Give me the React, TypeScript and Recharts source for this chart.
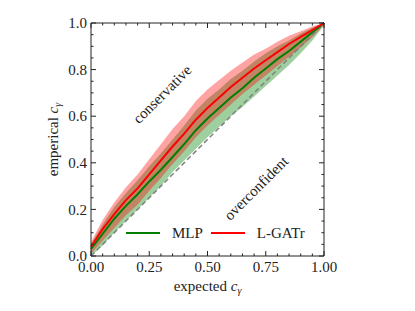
import {
  Area,
  ComposedChart,
  Line,
  ReferenceDot,
  ReferenceLine,
  XAxis,
  YAxis,
} from "recharts";

const SERIF = '"Liberation Serif", "DejaVu Serif", serif';
const INK = "#222";
const RED = "#ff0000";
const GREEN = "#008000";

// expected coverage
const X = [
  0, 0.05, 0.1, 0.15, 0.2, 0.25, 0.3, 0.35, 0.4, 0.45, 0.5, 0.55, 0.6, 0.65, 0.7,
  0.75, 0.8, 0.85, 0.9, 0.95, 1,
];

// MLP
const MLP = [
  0.03, 0.095, 0.16, 0.215, 0.265, 0.32, 0.37, 0.425, 0.48, 0.54, 0.59, 0.635,
  0.68, 0.72, 0.765, 0.805, 0.845, 0.88, 0.92, 0.96, 1.0,
];
const MLP_LO = [
  0.0, 0.045, 0.1, 0.15, 0.2, 0.25, 0.3, 0.36, 0.41, 0.46, 0.51, 0.555, 0.6,
  0.64, 0.685, 0.73, 0.775, 0.82, 0.87, 0.925, 0.99,
];
const MLP_HI = [
  0.05, 0.135, 0.21, 0.27, 0.325, 0.385, 0.44, 0.5, 0.56, 0.625, 0.675, 0.715,
  0.76, 0.795, 0.835, 0.87, 0.9, 0.925, 0.955, 0.98, 1.0,
];

// L-GATr
const LGATR = [
  0.04, 0.115, 0.18, 0.24, 0.29, 0.35, 0.41, 0.47, 0.525, 0.585, 0.635, 0.68,
  0.725, 0.765, 0.805, 0.84, 0.875, 0.91, 0.94, 0.97, 1.0,
];
const LGATR_LO = [
  0.01, 0.065, 0.12, 0.175, 0.22, 0.28, 0.335, 0.395, 0.45, 0.51, 0.56, 0.605,
  0.65, 0.695, 0.735, 0.775, 0.815, 0.855, 0.895, 0.94, 0.99,
];
const LGATR_HI = [
  0.06, 0.155, 0.23, 0.295, 0.35, 0.415, 0.48, 0.545, 0.6, 0.665, 0.715, 0.755,
  0.795, 0.83, 0.865, 0.89, 0.92, 0.945, 0.965, 0.985, 1.0,
];

const X_TICKS = [0, 0.25, 0.5, 0.75, 1];
const Y_TICKS = [0, 0.2, 0.4, 0.6, 0.8, 1];
const MINOR = [
  0, 0.05, 0.1, 0.15, 0.2, 0.25, 0.3, 0.35, 0.4, 0.45, 0.5, 0.55, 0.6, 0.65, 0.7,
  0.75, 0.8, 0.85, 0.9, 0.95, 1,
];

const MAJ_LEN = 5;
const MIN_LEN = 2.5;
const isIn = (v: number, list: number[]) => list.some((t) => Math.abs(t - v) < 1e-6);

// inward ticks, drawn from each axis' own tick coordinates
const bottomTick = (p: any) => {
  const v = p.payload.value;
  const major = isIn(v, X_TICKS);
  const y0 = p.y - 5;
  return (
    <g>
      <line x1={p.x} x2={p.x} y1={y0} y2={y0 - (major ? MAJ_LEN : MIN_LEN)} stroke={INK} />
      {major && (
        <text x={p.x} y={p.y} dy="0.71em" textAnchor="middle" fontSize={15} fill={INK} fontFamily={SERIF}>
          {v.toFixed(2)}
        </text>
      )}
    </g>
  );
};
const leftTick = (p: any) => {
  const v = p.payload.value;
  const major = isIn(v, Y_TICKS);
  const x0 = p.x + 4;
  return (
    <g>
      <line x1={x0} x2={x0 + (major ? MAJ_LEN : MIN_LEN)} y1={p.y} y2={p.y} stroke={INK} />
      {major && (
        <text x={p.x} y={p.y} dy="0.35em" textAnchor="end" fontSize={15} fill={INK} fontFamily={SERIF}>
          {v.toFixed(1)}
        </text>
      )}
    </g>
  );
};
const topTick = (p: any) => {
  const major = isIn(p.payload.value, X_TICKS);
  return <line x1={p.x} x2={p.x} y1={p.y} y2={p.y + (major ? MAJ_LEN : MIN_LEN)} stroke={INK} />;
};
const rightTick = (p: any) => {
  const major = isIn(p.payload.value, Y_TICKS);
  return <line x1={p.x} x2={p.x - (major ? MAJ_LEN : MIN_LEN)} y1={p.y} y2={p.y} stroke={INK} />;
};

const xLabel = (p: any) => {
  const vb = p.viewBox;
  return (
    <text x={vb.x + vb.width / 2} y={vb.y + 35} textAnchor="middle" fontSize={15} fill={INK} fontFamily={SERIF}>
      expected{" "}
      <tspan fontStyle="italic">c</tspan>
      <tspan fontStyle="italic" fontSize={10} dy={3}>γ</tspan>
    </text>
  );
};

const yLabel = (p: any) => {
  const vb = p.viewBox;
  const x = vb.x + vb.width - 33;
  const y = vb.y + vb.height / 2;
  return (
    <text x={x} y={y} textAnchor="middle" fontSize={15} fill={INK} fontFamily={SERIF} transform={`rotate(-90 ${x} ${y})`}>
      emperical{" "}
      <tspan fontStyle="italic">c</tspan>
      <tspan fontStyle="italic" fontSize={10} dy={3}>γ</tspan>
    </text>
  );
};

const note = (txt: string) => (p: any) => {
  const vb = p.viewBox;
  const cx = vb.x + vb.width / 2;
  const cy = vb.y + vb.height / 2;
  return (
    <text x={cx} y={cy} dy="0.35em" textAnchor="middle" fontSize={15} fill={INK} fontFamily={SERIF} transform={`rotate(-45 ${cx} ${cy})`}>
      {txt}
    </text>
  );
};

function LegendItem({ color, label }: { color: string; label: string }) {
  return (
    <div style={{ display: "flex", alignItems: "center", marginRight: 8 }}>
      <span style={{ display: "inline-block", width: 34, height: 2.5, background: color, marginRight: 12 }} />
      <span>{label}</span>
    </div>
  );
}

export default function App() {
  const rows = X.map((x, i) => ({
    x,
    mlp: MLP[i],
    lgatr: LGATR[i],
    mlpBand: [MLP_LO[i], MLP_HI[i]],
    lgatrBand: [LGATR_LO[i], LGATR_HI[i]],
  }));

  return (
    <div style={{ position: "absolute", left: 0, top: 0, width: 415, height: 311, fontFamily: SERIF, background: "#fff" }}>
      <ComposedChart width={415} height={311} data={rows} margin={{ top: 0, right: 0, bottom: 10, left: 10 }}>
        <XAxis
          dataKey="x"
          type="number"
          domain={[0, 1]}
          ticks={MINOR}
          interval={0}
          tickLine={false}
          tickSize={0}
          tickMargin={5}
          height={45}
          axisLine={{ stroke: INK }}
          tick={bottomTick}
          label={xLabel}
        />
        <XAxis
          xAxisId="top"
          dataKey="x"
          orientation="top"
          type="number"
          domain={[0, 1]}
          allowDataOverflow
          ticks={MINOR}
          interval={0}
          tickLine={false}
          tickSize={0}
          tickMargin={0}
          height={23}
          axisLine={{ stroke: INK }}
          tick={topTick}
        />
        <YAxis
          type="number"
          domain={[0, 1]}
          ticks={MINOR}
          interval={0}
          tickLine={false}
          tickSize={0}
          tickMargin={4}
          width={81}
          axisLine={{ stroke: INK }}
          tick={leftTick}
          label={yLabel}
        />
        <YAxis
          yAxisId="right"
          dataKey="mlp"
          orientation="right"
          type="number"
          domain={[0, 1]}
          allowDataOverflow
          ticks={MINOR}
          interval={0}
          tickLine={false}
          tickSize={0}
          tickMargin={0}
          width={91}
          axisLine={{ stroke: INK }}
          tick={rightTick}
        />

        <Area dataKey="mlpBand" type="linear" stroke="none" fill={GREEN} fillOpacity={0.38} isAnimationActive={false} />
        <Area dataKey="lgatrBand" type="linear" stroke="none" fill={RED} fillOpacity={0.36} isAnimationActive={false} />
        <ReferenceLine
          segment={[{ x: 0, y: 0 }, { x: 1, y: 1 }]}
          stroke="#808080"
          strokeWidth={1.5}
          strokeDasharray="5 3"
        />
        <Line dataKey="mlp" type="linear" stroke={GREEN} strokeWidth={2} dot={false} isAnimationActive={false} />
        <Line dataKey="lgatr" type="linear" stroke={RED} strokeWidth={2} dot={false} isAnimationActive={false} />

        <ReferenceDot x={0.305} y={0.695} r={0} fill="none" stroke="none" ifOverflow="visible" label={note("conservative")} />
        <ReferenceDot x={0.708} y={0.292} r={0} fill="none" stroke="none" ifOverflow="visible" label={note("overconfident")} />
      </ComposedChart>
      <div style={{ position: "absolute", left: 126, top: 224, display: "flex", alignItems: "center", fontSize: 15, lineHeight: "18px", color: INK }}>
        <LegendItem color={GREEN} label="MLP" />
        <LegendItem color={RED} label="L-GATr" />
      </div>
    </div>
  );
}
